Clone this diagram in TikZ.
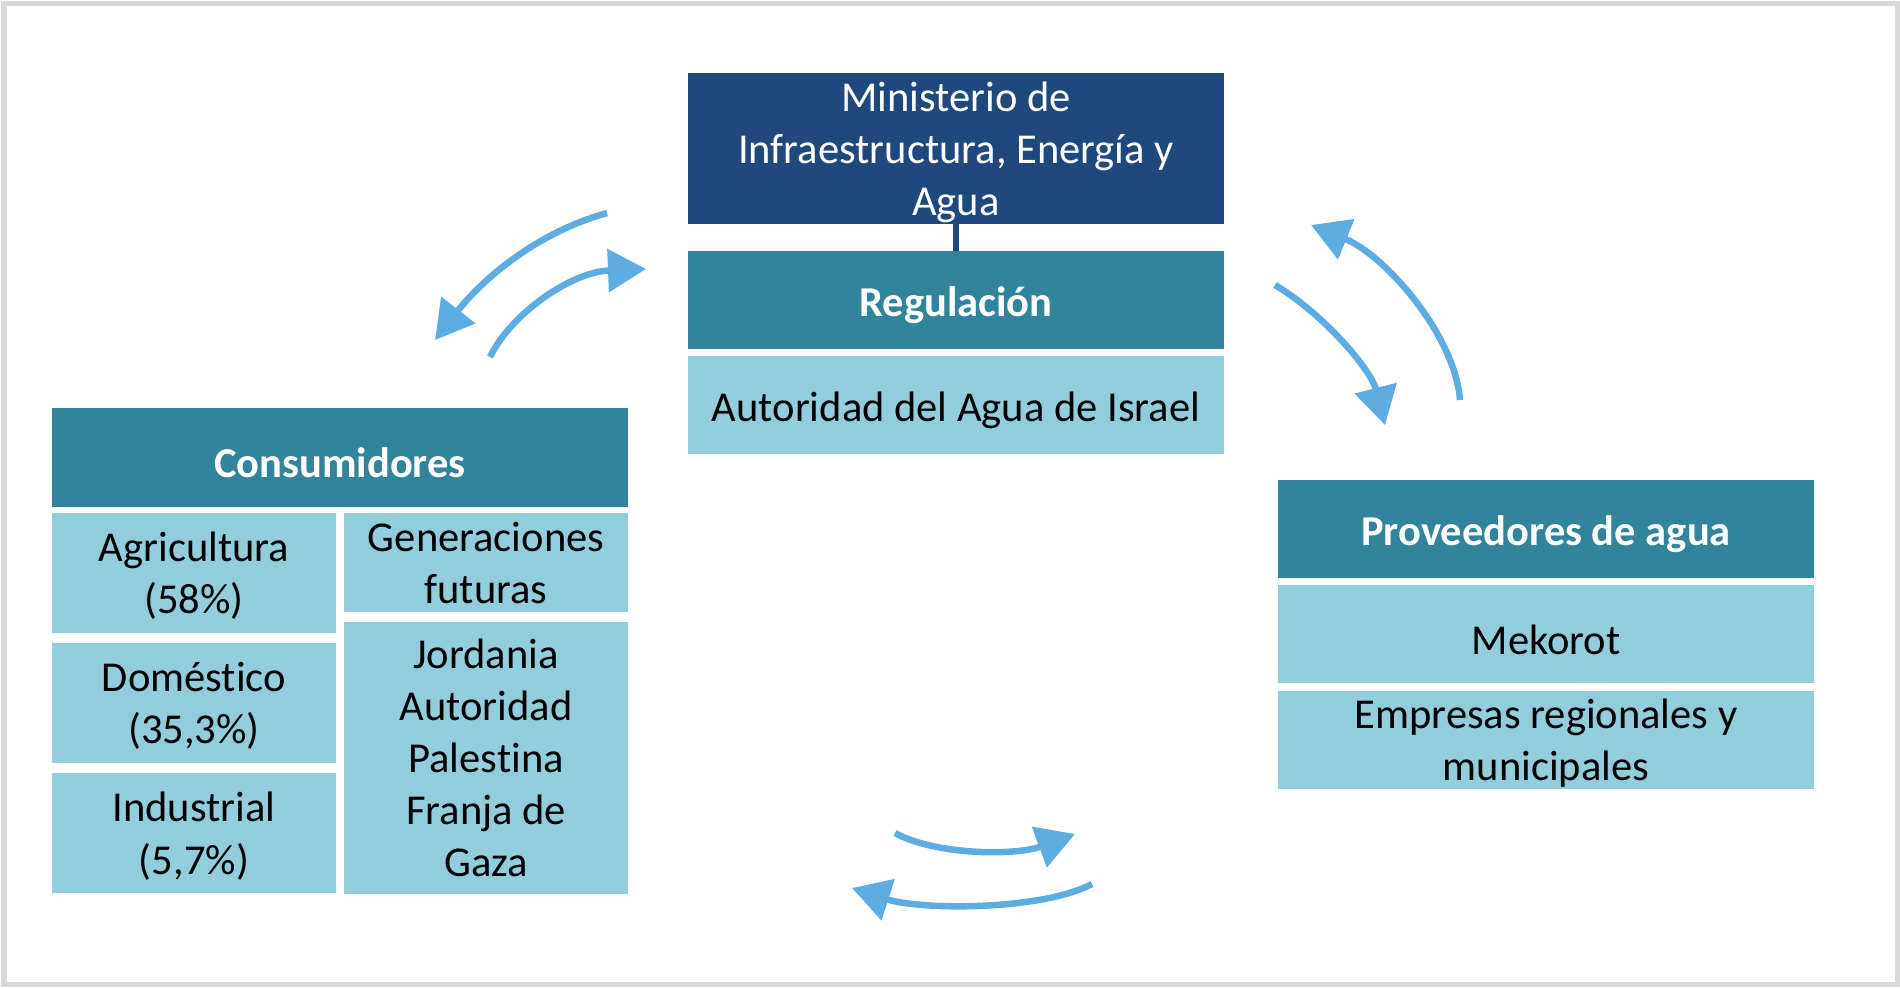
\documentclass[tikz,border=0pt]{standalone}
\usepackage{fontspec}
\setmainfont{Carlito}[Ligatures=NoCommon]
\usetikzlibrary{positioning, arrows.meta}

\definecolor{azulosc}{RGB}{31,73,125}
\definecolor{verdeazul}{RGB}{49,132,155}
\definecolor{celeste}{RGB}{146,205,220}
\definecolor{flechaazul}{RGB}{93,173,226}
\definecolor{marco}{RGB}{217,217,217}

\newcommand\puntal{\rule{0pt}{11.5pt}}
\newcommand\sinprof[1]{\raisebox{0pt}[\height][0pt]{#1}}

\tikzset{
    caja/.style={inner sep=0pt, outer sep=0pt, align=center, font=\fontsize{12.1}{14.8}\selectfont,
        execute at begin node=\puntal},
    ministerio/.style={caja, fill=azulosc, text=white, minimum width=5.36cm, minimum height=1.51cm},
    cabecera/.style={caja, fill=verdeazul, text=white, font=\fontsize{12.1}{14.8}\selectfont\bfseries, minimum height=0.98cm},
    celda/.style={caja, fill=celeste, text=black, minimum height=0.98cm},
    flecha/.style={draw=flechaazul, line width=0.065cm, -{Triangle[length=0.38cm, width=0.42cm]}}
}

\begin{document}
\begin{tikzpicture}[x=0.01cm, y=-0.01cm]
    \useasboundingbox (0,0) rectangle (1900,987);
    \draw[marco, line width=0.05cm] (4,3) rectangle (1897,984);

    % centro
    \node[ministerio] (min) at (956,148.5) {Ministerio de\\Infraestructura, Energía y\\\sinprof{Agua}};
    \node[cabecera, minimum width=5.36cm, below=0.27cm of min] (reg) {Regulación};
    \node[celda, minimum width=5.36cm, below=0.07cm of reg] (aut) {Autoridad del Agua de Israel};
    \draw[azulosc, line width=0.06cm] (min.south) -- (reg.north);

    % consumidores
    \node[cabecera, minimum width=5.76cm, minimum height=0.99cm] (cons) at (340,457.5) {Consumidores};
    \node[celda, minimum width=2.84cm, minimum height=1.2cm, below=0.06cm of cons.south west, anchor=north west] (agri) {Agricultura\\\sinprof{(58\%)}};
    \node[celda, minimum width=2.84cm, minimum height=1.2cm, below=0.10cm of agri] (dom) {Doméstico\\\sinprof{(35,3\%)}};
    \node[celda, minimum width=2.84cm, minimum height=1.2cm, below=0.10cm of dom] (ind) {Industrial\\\sinprof{(5,7\%)}};
    \node[celda, minimum width=2.84cm, minimum height=0.99cm, below=0.06cm of cons.south east, anchor=north east] (gen) {Generaciones\\futuras};
    \node[celda, minimum width=2.84cm, minimum height=2.72cm, below=0.10cm of gen] (jor) {Jordania\\Autoridad\\Palestina\\Franja de\\Gaza};

    % proveedores
    \node[cabecera, minimum width=5.36cm] (prov) at (1546,529) {Proveedores de agua};
    \node[celda, minimum width=5.36cm, below=0.07cm of prov] (mek) {Mekorot};
    \node[celda, minimum width=5.36cm, below=0.08cm of mek] (emp) {Empresas regionales y\\\sinprof{municipales}};

    % flechas
    \coordinate (izq1a) at (607,213);
    \coordinate (izq1b) at (435,340);
    \coordinate (izq2a) at (490,357);
    \coordinate (izq2b) at (646,269);
    \coordinate (der1a) at (1275,285);
    \coordinate (der1b) at (1385,425);
    \coordinate (der2a) at (1460,400);
    \coordinate (der2b) at (1311,225);
    \coordinate (abj1a) at (895,833);
    \coordinate (abj1b) at (1075,834);
    \coordinate (abj2a) at (1092,884);
    \coordinate (abj2b) at (852,888);

    \draw[flecha] (izq1a) .. controls (535,233) and (481,281) .. (izq1b);
    \draw[flecha] (izq2a) .. controls (510,315) and (570,272) .. (izq2b);
    \draw[flecha] (der1a) .. controls (1325,315) and (1371,370) .. (der1b);
    \draw[flecha] (der2a) .. controls (1455,335) and (1385,255) .. (der2b);
    \draw[flecha] (abj1a) .. controls (935,855) and (1015,856) .. (abj1b);
    \draw[flecha] (abj2a) .. controls (1040,911) and (920,910) .. (abj2b);
\end{tikzpicture}
\end{document}
